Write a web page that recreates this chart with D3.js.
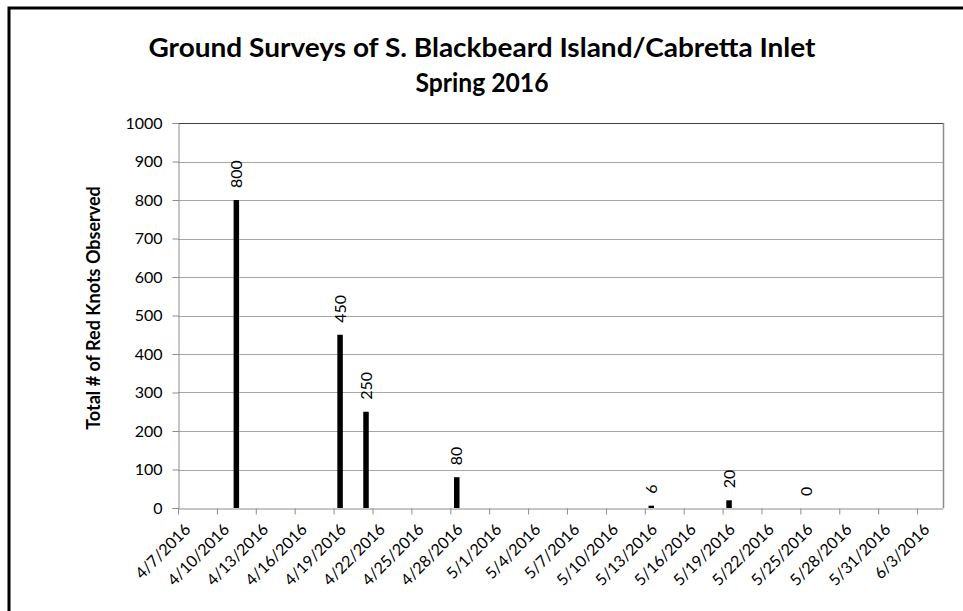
<!DOCTYPE html>
<html>
<head>
<meta charset="utf-8">
<script src="https://cdn.jsdelivr.net/npm/d3@7"></script>
<style>
  body { margin: 0; background: #fff; }
  svg { display: block; }
  text { font-family: Lato, "Open Sans", sans-serif; fill: #000; }
</style>
</head>
<body>
<svg id="chart" width="963" height="611"></svg>
<script>
// ---- data ----
const titleLines = ["Ground Surveys of S. Blackbeard Island/Cabretta Inlet", "Spring 2016"];
const yAxisTitle = "Total # of Red Knots Observed";
const surveyDates = ["4/11/2016", "4/19/2016", "4/21/2016", "4/28/2016", "5/13/2016", "5/19/2016", "5/25/2016"];
const redKnots = [800, 450, 250, 80, 6, 20, 0];
const yTicks = [0, 100, 200, 300, 400, 500, 600, 700, 800, 900, 1000];
const xTickLabels = ["4/7/2016", "4/10/2016", "4/13/2016", "4/16/2016", "4/19/2016", "4/22/2016", "4/25/2016",
  "4/28/2016", "5/1/2016", "5/4/2016", "5/7/2016", "5/10/2016", "5/13/2016", "5/16/2016", "5/19/2016",
  "5/22/2016", "5/25/2016", "5/28/2016", "5/31/2016", "6/3/2016"];
const xDomain = ["4/7/2016", "6/5/2016"];

// ---- layout ----
const parse = d3.timeParse("%m/%d/%Y");
const plot = { left: 178, right: 943, top: 123, bottom: 508 };
const svg = d3.select("#chart");

// outer chart frame
svg.append("rect").attr("x", 9).attr("y", 8).attr("width", 1000).attr("height", 700)
  .attr("fill", "none").attr("stroke", "#000").attr("stroke-width", 3);

const x = d3.scaleTime().domain(xDomain.map(parse)).range([plot.left, plot.right]);
const y = d3.scaleLinear().domain([0, 1000]).range([plot.bottom, plot.top]);
const dayW = x(parse("4/8/2016")) - x(parse("4/7/2016"));

// gridlines
svg.append("g").selectAll("line").data(yTicks.filter(d => d > 0)).join("line")
  .attr("x1", plot.left).attr("x2", plot.right)
  .attr("y1", d => Math.round(y(d)) + 0.5).attr("y2", d => Math.round(y(d)) + 0.5)
  .attr("stroke", d => d === 1000 ? "#404040" : "#a6a6a6").attr("stroke-width", 1);

// right plot border
svg.append("line").attr("x1", plot.right + 0.5).attr("x2", plot.right + 0.5)
  .attr("y1", plot.top).attr("y2", plot.bottom).attr("stroke", "#8c8c8c").attr("stroke-width", 1.5);

// y axis
const yAxis = svg.append("g").attr("transform", `translate(${plot.left + 0.5},0)`)
  .call(d3.axisLeft(y).tickValues(yTicks).tickFormat(d3.format("d")).tickSize(6).tickPadding(10));
yAxis.select(".domain").attr("stroke", "#8c8c8c");
yAxis.selectAll(".tick line").attr("stroke", "#8c8c8c");
yAxis.selectAll(".tick text").style("font-size", "16px").style("font-family", "Lato, sans-serif");

// x axis
const xAxis = svg.append("g").attr("transform", `translate(0,${plot.bottom + 0.5})`)
  .call(d3.axisBottom(x).tickValues(xTickLabels.map(parse)).tickSize(6).tickSizeOuter(0)
    .tickFormat((d, i) => xTickLabels[i]));
xAxis.select(".domain").attr("stroke", "#8c8c8c");
xAxis.selectAll(".tick line").attr("stroke", "#8c8c8c");
xAxis.selectAll(".tick text")
  .style("font-size", "16px").style("font-family", "Lato, sans-serif")
  .attr("text-anchor", "end").attr("dy", null).attr("y", null)
  .attr("transform", "translate(13,22) rotate(-45)");

// bars
const barW = 5.5;
svg.append("g").selectAll("rect").data(redKnots).join("rect")
  .attr("x", (d, i) => x(parse(surveyDates[i])) + dayW / 2 - barW / 2)
  .attr("width", barW)
  .attr("y", d => y(d))
  .attr("height", d => plot.bottom - y(d))
  .attr("fill", "#000");

// bar labels
svg.append("g").selectAll("text").data(redKnots).join("text")
  .attr("transform", (d, i) => `translate(${x(parse(surveyDates[i])) + dayW / 2 + 5.5},${y(d) - 12}) rotate(-90)`)
  .attr("text-anchor", "start")
  .style("font-size", "16px")
  .text(d => d);

// title
svg.append("g").selectAll("text").data(titleLines).join("text")
  .attr("x", 482).attr("y", (d, i) => 57 + i * 35)
  .attr("text-anchor", "middle")
  .attr("textLength", (d, i) => i === 0 ? 667 : 133)
  .attr("lengthAdjust", "spacingAndGlyphs")
  .style("font-size", "26px").style("font-weight", "bold")
  .text(d => d);

// y axis title
svg.append("text")
  .attr("transform", `translate(100,308) rotate(-90)`)
  .attr("text-anchor", "middle")
  .style("font-size", "18px").style("font-weight", "bold")
  .text(yAxisTitle);
</script>
</body>
</html>
